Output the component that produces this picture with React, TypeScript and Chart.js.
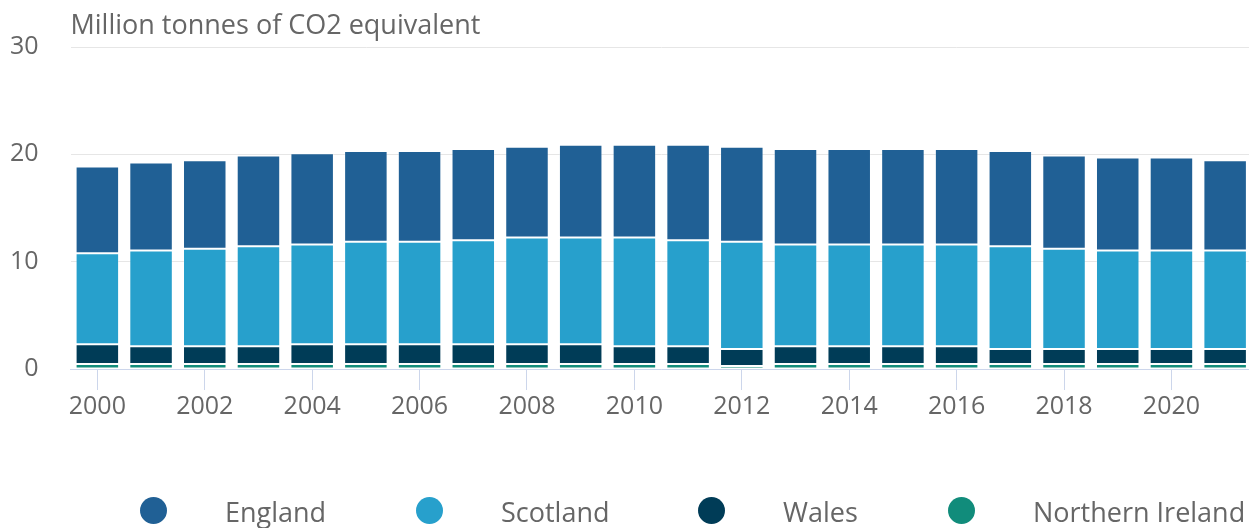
import React, { useEffect, useRef } from 'react';
import { Chart, registerables } from 'chart.js';

Chart.register(...registerables);

const years = [
  '2000', '2001', '2002', '2003', '2004', '2005', '2006', '2007', '2008', '2009', '2010',
  '2011', '2012', '2013', '2014', '2015', '2016', '2017', '2018', '2019', '2020', '2021',
];
const england = [8.09, 8.2, 8.25, 8.45, 8.5, 8.44, 8.44, 8.5, 8.44, 8.64, 8.64, 8.9, 8.84, 8.9, 8.9, 8.9, 8.9, 8.87, 8.68, 8.67, 8.67, 8.42];
const scotland = [8.48, 8.91, 9.08, 9.31, 9.3, 9.56, 9.56, 9.7, 9.96, 9.96, 10.14, 9.88, 9.99, 9.48, 9.48, 9.48, 9.48, 9.56, 9.33, 9.16, 9.16, 9.16];
const wales = [1.84, 1.66, 1.66, 1.66, 1.84, 1.84, 1.84, 1.84, 1.84, 1.84, 1.66, 1.66, 1.59, 1.66, 1.66, 1.66, 1.66, 1.41, 1.41, 1.41, 1.41, 1.41];
const northernIreland = [0.46, 0.46, 0.46, 0.46, 0.46, 0.46, 0.46, 0.46, 0.46, 0.46, 0.46, 0.46, 0.28, 0.46, 0.46, 0.46, 0.46, 0.46, 0.46, 0.46, 0.46, 0.46];
const yTicks = [0, 10, 20, 30];
const seriesNames = ['England', 'Scotland', 'Wales', 'Northern Ireland'];
const titleText = 'Million tonnes of CO2 equivalent';

const FONT = '"Open Sans", "DejaVu Sans", sans-serif';
const TEXT = '#666666';
const COLORS: Record<string, string> = {
  England: '#206095',
  Scotland: '#27a0cc',
  Wales: '#003c57',
  'Northern Ireland': '#118c7b',
};
const LEGEND_ITEM_WIDTHS = [276, 282, 250, 300];

const titlePlugin = {
  id: 'titleText',
  afterDraw(chart: any) {
    const { ctx, chartArea } = chart;
    ctx.save();
    ctx.font = `27px ${FONT}`;
    ctx.fillStyle = TEXT;
    ctx.textBaseline = 'alphabetic';
    ctx.textAlign = 'left';
    ctx.fillText(titleText, chartArea.left, 34);
    ctx.restore();
  },
};

export default function App() {
  const ref = useRef<HTMLCanvasElement>(null);

  useEffect(() => {
    if (!ref.current) return;
    const seriesData: Record<string, number[]> = {
      England: england,
      Scotland: scotland,
      Wales: wales,
      'Northern Ireland': northernIreland,
    };
    const stackOrder = [...seriesNames].reverse();
    const chart = new Chart(ref.current, {
      type: 'bar',
      data: {
        labels: years,
        datasets: stackOrder.map((name) => ({
          label: name,
          data: seriesData[name],
          backgroundColor: COLORS[name],
          borderColor: 'rgba(255,255,255,0.25)',
          borderWidth: 1,
          borderSkipped: false,
          barPercentage: 0.81,
          categoryPercentage: 1,
        })),
      },
      options: {
        responsive: false,
        animation: false,
        layout: { padding: { top: 41, left: 0, right: 0, bottom: 99 } },
        plugins: {
          legend: { display: false },
          tooltip: { enabled: false },
        },
        scales: {
          x: {
            stacked: true,
            grid: {
              offset: false,
              drawOnChartArea: false,
              tickLength: 21,
              tickWidth: 1,
              tickColor: (ctx: any) => (ctx.index % 2 === 0 ? '#ccd6eb' : 'rgba(0,0,0,0)'),
            },
            border: { color: '#ccd6eb', width: 1 },
            ticks: {
              autoSkip: false,
              maxRotation: 0,
              minRotation: 0,
              padding: 2,
              color: TEXT,
              font: { family: FONT, size: 25 },
              callback: (_v: any, i: number) => (i % 2 === 0 ? years[i] : ''),
            },
            afterFit: (s: any) => {
              s.height = 60;
            },
          },
          y: {
            stacked: true,
            min: 0,
            max: 30,
            grid: { color: '#e6e6e6', drawTicks: false, lineWidth: 1 },
            border: { display: false },
            ticks: {
              padding: 32,
              color: TEXT,
              font: { family: FONT, size: 25 },
            },
            afterBuildTicks: (s: any) => {
              s.ticks = yTicks.map((v) => ({ value: v }));
            },
            afterFit: (s: any) => {
              s.width = 70.5;
            },
          },
        },
      },
      plugins: [titlePlugin],
    });
    return () => chart.destroy();
  }, []);

  return (
    <div style={{ position: 'fixed', left: 0, top: 0, width: 1252, height: 528, background: '#fff' }}>
      <canvas ref={ref} width={1252} height={528} style={{ display: 'block', width: 1252, height: 528 }} />
      <div
        style={{
          position: 'absolute',
          left: 140,
          top: 494,
          display: 'flex',
          alignItems: 'center',
          fontFamily: FONT,
          fontSize: 27,
          lineHeight: '36px',
          color: TEXT,
          whiteSpace: 'nowrap',
        }}
      >
        {seriesNames.map((name, i) => (
          <div key={name} style={{ display: 'flex', alignItems: 'center', width: LEGEND_ITEM_WIDTHS[i] }}>
            <span
              style={{
                display: 'inline-block',
                width: 27,
                height: 27,
                borderRadius: '50%',
                background: COLORS[name],
                marginRight: 58,
                marginTop: -3,
                flex: 'none',
              }}
            />
            <span>{name}</span>
          </div>
        ))}
      </div>
    </div>
  );
}
